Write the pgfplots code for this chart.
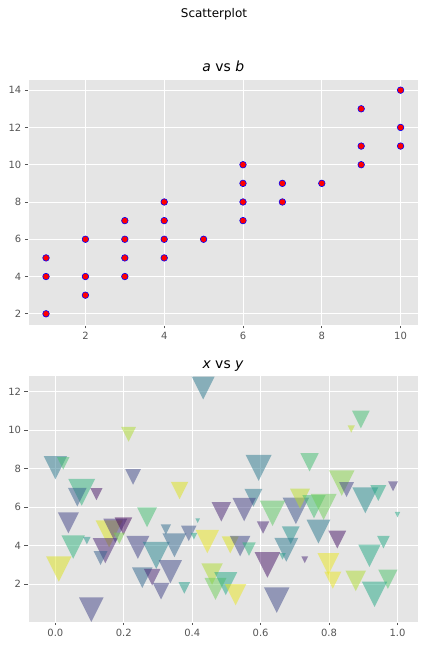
\documentclass[border=0pt]{standalone}
\usepackage{fontspec}
\setmainfont{DejaVu Sans}
\usepackage{pgfplots}
\pgfplotsset{compat=1.18}
\definecolor{ggbg}{HTML}{E5E5E5}
\definecolor{tickgray}{HTML}{555555}
\pgfdeclareplotmark{vtri}{%
  \pgfpathmoveto{\pgfqpoint{-\pgfplotmarksize}{\pgfplotmarksize}}%
  \pgfpathlineto{\pgfqpoint{\pgfplotmarksize}{\pgfplotmarksize}}%
  \pgfpathlineto{\pgfqpoint{0pt}{-\pgfplotmarksize}}%
  \pgfpathclose
  \pgfusepathqfill
}
\pgfplotsset{
  ggstyle/.style={
    scale only axis,
    width=390bp, height=246bp,
    anchor=south west,
    axis background/.style={fill=ggbg},
    axis line style={white},
    grid=major,
    major grid style={white, line width=0.8bp},
    tick align=outside,
    tick pos=left,
    major tick length=3.5bp,
    tick style={tickgray, line width=0.8bp},
    /pgf/number format/assume math mode=true,
    ticklabel style={font=\fontsize{10}{12}\selectfont, text=tickgray},
    title style={at={(0.5,1)}, anchor=base, yshift=1.5bp, font=\fontsize{14}{16}\selectfont},
  }
}
\begin{document}
\begin{tikzpicture}[x=1bp,y=1bp]
\useasboundingbox (0,0) rectangle (428,646);
\node[anchor=base, font=\fontsize{12}{14}\selectfont] at (214,628.5) {Scatterplot};
\begin{axis}[ggstyle,
  at={(28.3bp,321bp)},
  xmin=0.55, xmax=10.45, ymin=1.4, ymax=14.6,
  xtick={2,4,6,8,10}, ytick={2,4,6,8,10,12,14},
  title={\itshape a\upshape{} vs \itshape b},
]
\addplot[only marks, mark=*, mark size=3.3pt, mark options={fill=red, draw=blue, line width=0.6pt}] coordinates {
(1,2) (1,4) (1,5) (2,3) (2,4) (2,6) (3,4) (3,5) (3,6) (3,7)
(4,5) (4,6) (4,7) (4,8) (5,6) (6,7) (6,8) (6,9) (6,10) (7,8)
(7,9) (8,9) (9,10) (9,11) (9,13) (10,11) (10,12) (10,14)
};
\end{axis}
\begin{axis}[ggstyle,
  at={(28bp,24.3bp)},
  xmin=-0.08, xmax=1.06, ymin=0.06, ymax=12.81,
  xtick={0,0.2,0.4,0.6,0.8,1.0}, xticklabels={0.0,0.2,0.4,0.6,0.8,1.0},
  ytick={2,4,6,8,10,12},
  title={\itshape x\upshape{} vs \itshape y},
  colormap/viridis,
  point meta min=0, point meta max=1,
]
\addplot[scatter, only marks, mark=vtri, scatter src=explicit,
  scatter/use mapped color={draw=none, fill=mapped color},
  mark options={fill opacity=0.5},
  visualization depends on={\thisrow{s} \as \msize},
  scatter/@pre marker code/.append style={/tikz/mark size=\msize},
] table[x=x, y=y, meta=c] {
x y s c
0.000 8.04 11.7 0.40
0.023 8.27 6.3 0.70
0.214 9.77 7.4 0.88
0.227 7.56 7.8 0.22
0.077 6.77 13.5 0.65
0.064 6.51 9.3 0.30
0.120 6.67 6.1 0.05
0.363 6.86 8.7 0.95
0.038 5.18 10.6 0.20
0.268 5.47 10.0 0.70
0.052 3.93 11.8 0.65
0.092 4.26 3.7 0.52
0.010 2.79 12.7 0.95
0.157 4.61 13.5 0.95
0.146 3.74 12.7 0.10
0.175 4.78 12.0 0.15
0.199 5.01 8.8 0.02
0.187 4.38 5.7 0.80
0.132 3.36 7.0 0.30
0.241 3.91 11.5 0.20
0.295 3.50 13.6 0.45
0.254 2.34 10.3 0.33
0.283 2.37 8.3 0.10
0.336 2.65 11.7 0.22
0.309 1.64 8.3 0.20
0.377 1.81 5.8 0.55
0.105 0.68 12.3 0.20
0.323 4.84 5.2 0.35
0.348 4.02 12.0 0.33
0.390 4.64 7.8 0.25
0.405 4.49 3.3 0.60
0.416 5.29 2.3 0.55
0.444 4.21 11.7 0.97
0.432 12.17 11.5 0.40
0.485 5.75 9.7 0.10
0.458 2.53 10.8 0.88
0.468 1.76 11.0 0.78
0.498 2.03 11.5 0.60
0.511 4.04 8.5 0.95
0.527 1.46 10.7 0.97
0.594 8.03 13.0 0.40
0.743 8.32 9.2 0.70
0.579 6.48 9.0 0.40
0.552 5.87 11.7 0.18
0.703 5.80 13.3 0.25
0.715 6.44 10.0 0.90
0.756 6.02 11.7 0.70
0.784 6.01 13.0 0.78
0.893 10.54 8.8 0.70
0.865 10.05 3.7 0.90
0.837 7.24 12.8 0.82
0.851 6.91 7.5 0.20
0.906 6.35 13.0 0.48
0.944 6.73 8.0 0.60
0.987 7.08 5.0 0.15
1.000 5.61 2.7 0.60
0.635 5.68 12.8 0.75
0.607 4.94 6.2 0.10
0.769 4.73 12.0 0.40
0.688 4.54 8.8 0.50
0.675 3.79 12.0 0.40
0.664 3.45 3.3 0.55
0.620 3.00 12.8 0.05
0.729 3.27 3.3 0.10
0.540 3.98 10.3 0.22
0.566 3.82 6.7 0.65
0.647 1.18 12.8 0.22
0.824 4.32 9.0 0.05
0.959 4.18 6.3 0.60
0.918 3.47 11.2 0.60
0.798 3.05 11.0 0.97
0.811 2.21 8.5 0.97
0.878 2.18 10.3 0.88
0.972 2.26 9.7 0.72
0.933 1.48 12.7 0.60
};
\end{axis}
\end{tikzpicture}
\end{document}
